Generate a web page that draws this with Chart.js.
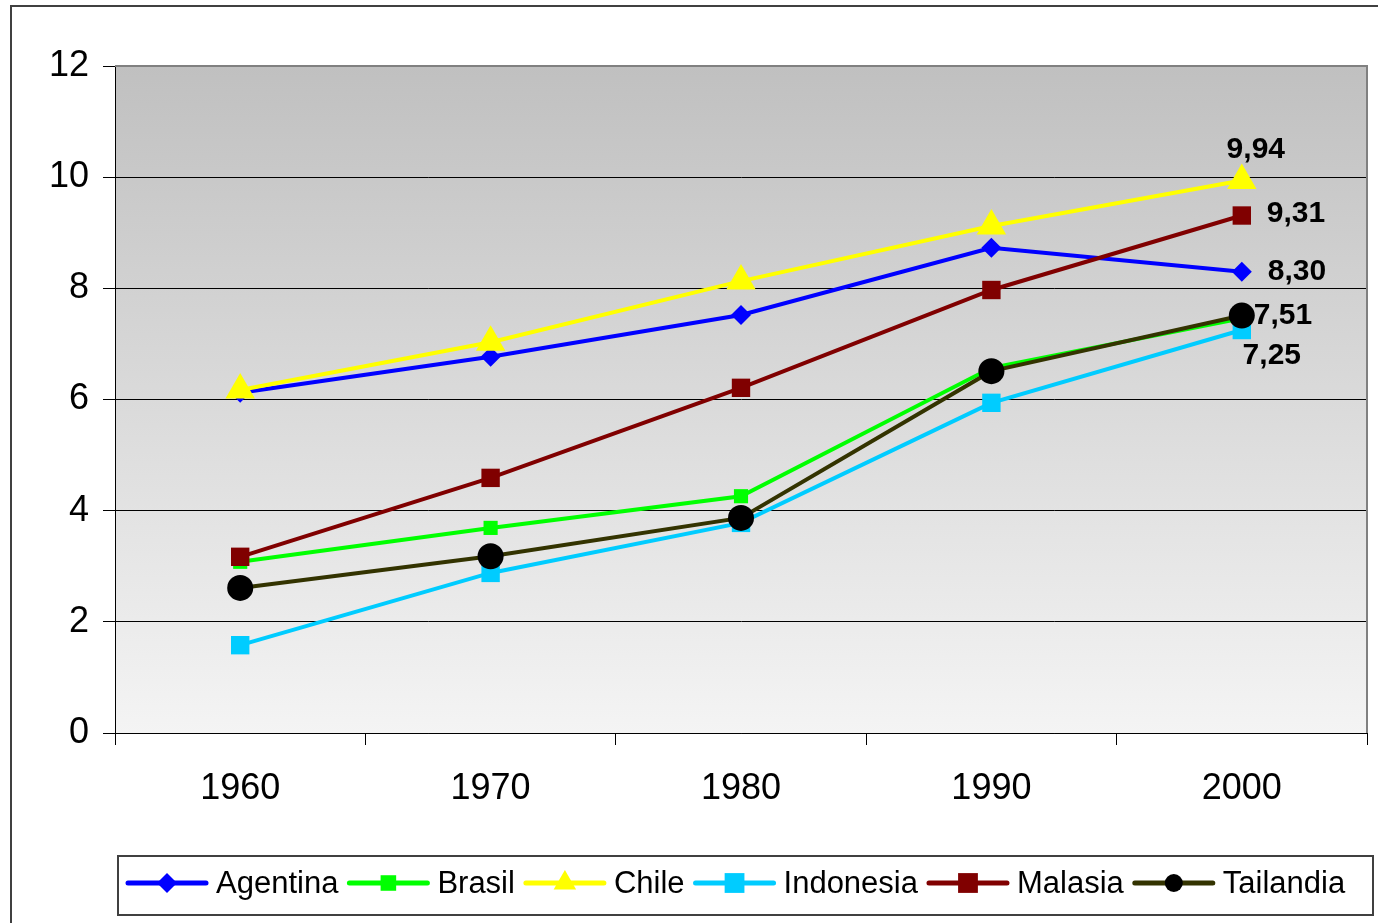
<!DOCTYPE html>
<html>
<head>
<meta charset="utf-8">
<script src="https://cdn.jsdelivr.net/npm/chart.js@4/dist/chart.umd.min.js"></script>
<style>
  html, body { margin: 0; padding: 0; background: #fff; }
  #wrap { width: 1378px; height: 923px; position: relative; }
</style>
</head>
<body>
<div id="wrap"><canvas id="chart" width="1378" height="923"></canvas></div>
<script>
// datos
const years = ['1960', '1970', '1980', '1990', '2000'];
const yTicks = [0, 2, 4, 6, 8, 10, 12];

const agentina  = [6.12, 6.77, 7.52, 8.73, 8.30];
const brasil    = [3.08, 3.69, 4.26, 6.57, 7.46];
const chile     = [6.17, 7.03, 8.13, 9.12, 9.94];
const indonesia = [1.58, 2.88, 3.78, 5.94, 7.25];
const malasia   = [3.17, 4.59, 6.21, 7.97, 9.31];
const tailandia = [2.61, 3.18, 3.87, 6.51, 7.51];

const FONT = '"Liberation Sans", Arial, sans-serif';

function serie(label, data, color, style, radius, order, legR, lbl) {
    return {
        label, data, order,
        borderColor: color,
        backgroundColor: color,
        borderWidth: 4,
        pointStyle: style,
        pointRadius: radius,
        pointHoverRadius: radius,
        pointBackgroundColor: color,
        pointBorderWidth: 0,
        tension: 0,
        _legR: legR,
        _lbl: lbl
    };
}

const datasets = [
    serie('Agentina',  agentina,  '#0000ff', 'rectRot',  10, 6, 10, { dx: 26, dy: 0,   align: 'left' }),
    serie('Brasil',    brasil,    '#00ff00', 'rect',     10, 5, 11, null),
    serie('Chile',     chile,     '#ffff00', 'triangle', 17, 4, 13, { dx: 14, dy: -31, align: 'center' }),
    serie('Indonesia', indonesia, '#00ccff', 'rect',     13, 3, 14, { dx: 30, dy: 26,  align: 'center' }),
    serie('Malasia',   malasia,   '#800000', 'rect',     13, 2, 14, { dx: 25, dy: -2,  align: 'left' }),
    serie('Tailandia', tailandia, '#333300', 'circle',   13, 1, 9,  { dx: 12, dy: 0,   align: 'left' })
];
datasets[5].pointBackgroundColor = '#000000';

const fondo = {
    id: 'fondo',
    beforeDraw(chart) {
        const { ctx, chartArea: a } = chart;
        ctx.save();
        ctx.fillStyle = '#fff';
        ctx.fillRect(0, 0, chart.width, chart.height);
        ctx.strokeStyle = '#404040';
        ctx.lineWidth = 2;
        ctx.strokeRect(11, 6, chart.width + 20, chart.height + 20);
        const g = ctx.createLinearGradient(0, a.top, 0, a.bottom);
        g.addColorStop(0, '#c0c0c0');
        g.addColorStop(1, '#f4f4f4');
        ctx.fillStyle = g;
        ctx.fillRect(a.left, a.top, a.right - a.left, a.bottom - a.top);
        ctx.restore();
    },
    afterDraw(chart) {
        const { ctx, chartArea: a } = chart;
        ctx.save();
        ctx.strokeStyle = '#808080';
        ctx.lineWidth = 2;
        ctx.beginPath();
        ctx.moveTo(a.left, a.top);
        ctx.lineTo(a.right, a.top);
        ctx.lineTo(a.right, a.bottom);
        ctx.stroke();
        ctx.restore();
    }
};

const etiquetas = {
    id: 'etiquetas',
    afterDatasetsDraw(chart) {
        const { ctx } = chart;
        ctx.save();
        ctx.font = 'bold 30px ' + FONT;
        ctx.fillStyle = '#000';
        ctx.textBaseline = 'middle';
        chart.data.datasets.forEach((ds, i) => {
            if (!ds._lbl) return;
            const meta = chart.getDatasetMeta(i);
            const last = ds.data.length - 1;
            const p = meta.data[last];
            ctx.textAlign = ds._lbl.align;
            ctx.fillText(ds.data[last].toFixed(2).replace('.', ','), p.x + ds._lbl.dx, p.y + ds._lbl.dy);
        });
        ctx.restore();
    }
};

const leyenda = {
    id: 'leyenda',
    afterDraw(chart) {
        const { ctx } = chart;
        ctx.save();
        ctx.strokeStyle = '#404040';
        ctx.lineWidth = 2;
        ctx.strokeRect(118, 856, 1255, 59);
        ctx.font = '31px ' + FONT;
        ctx.textBaseline = 'middle';
        ctx.textAlign = 'left';
        const cy = 883;
        let x = 128;
        chart.data.datasets.forEach(ds => {
            ctx.strokeStyle = ds.borderColor;
            ctx.lineWidth = 5;
            ctx.lineCap = 'round';
            ctx.beginPath();
            ctx.moveTo(x, cy);
            ctx.lineTo(x + 78, cy);
            ctx.stroke();
            ctx.fillStyle = ds.pointBackgroundColor;
            Chart.helpers.drawPoint(ctx, { pointStyle: ds.pointStyle, rotation: 0, borderWidth: 0, radius: ds._legR }, x + 39, cy);
            ctx.fillStyle = '#000';
            ctx.fillText(ds.label, x + 88, cy + 1);
            x += 88 + ctx.measureText(ds.label).width + 11;
        });
        ctx.restore();
    }
};

new Chart(document.getElementById('chart'), {
    type: 'line',
    data: { labels: years, datasets },
    options: {
        responsive: false,
        animation: false,
        layout: { autoPadding: false, padding: { left: 0, top: 66, right: 11, bottom: 110 } },
        plugins: { legend: { display: false }, tooltip: { enabled: false } },
        scales: {
            x: {
                offset: true,
                afterFit: s => { s.height = 80; },
                grid: { offset: true, drawOnChartArea: false, color: '#000', tickLength: 12, lineWidth: 1 },
                border: { color: '#000', width: 1 },
                ticks: { color: '#000', font: { family: FONT, size: 36 }, padding: 22 }
            },
            y: {
                min: 0, max: 12,
                afterFit: s => { s.width = 115; },
                afterBuildTicks: s => { s.ticks = yTicks.map(v => ({ value: v })); },
                grid: { color: '#000', tickLength: 12, lineWidth: 1 },
                border: { color: '#000', width: 1 },
                ticks: { color: '#000', font: { family: FONT, size: 36 }, padding: 14 }
            }
        }
    },
    plugins: [fondo, etiquetas, leyenda]
});
</script>
</body>
</html>
